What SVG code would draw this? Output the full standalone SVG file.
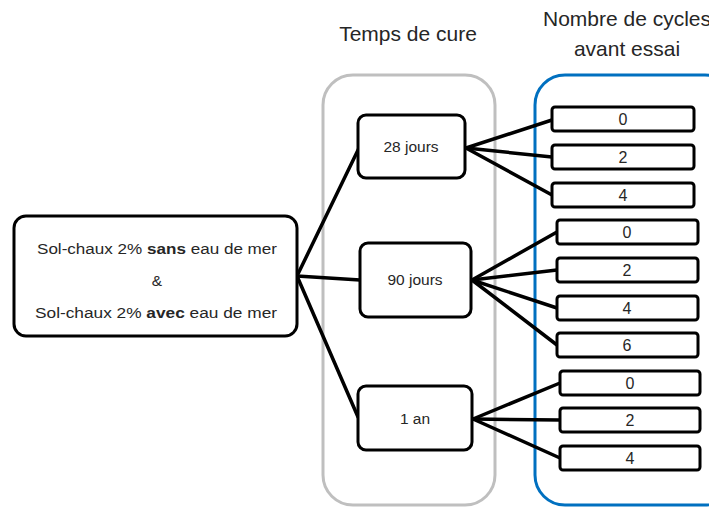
<svg xmlns="http://www.w3.org/2000/svg" width="709" height="508" viewBox="0 0 709 508">
<style>
text{font-family:"Liberation Sans","Open Sans",Arial,sans-serif;fill:#262626;text-anchor:middle}
.node{fill:#fff;stroke:#000;stroke-width:3}
.small{fill:#fff;stroke:#000;stroke-width:3}
.conn line{stroke:#000;stroke-width:3.5;stroke-linecap:round}
.t{font-size:15.5px}
.d{font-size:16px}
.h{font-size:21px}
</style>
<rect width="709" height="508" fill="#fff"/>
<g id="titles">
<text class="h" x="408" y="41">Temps de cure</text>
<text class="h" x="627" y="26">Nombre de cycles</text>
<text class="h" x="627" y="56">avant essai</text>
</g>
<g id="container-cure">
<rect x="323" y="75" width="172" height="430" rx="30" fill="none" stroke="#bfbfbf" stroke-width="3"/>
</g>
<g id="container-cycles">
<rect x="535" y="75" width="200" height="430" rx="30" fill="none" stroke="#0070c0" stroke-width="3"/>
</g>
<g id="connectors" class="conn">
<line x1="297" y1="276" x2="359" y2="148"/>
<line x1="297" y1="276" x2="360" y2="280"/>
<line x1="297" y1="276" x2="358" y2="417"/>
<line x1="466" y1="148" x2="552" y2="120"/>
<line x1="466" y1="148" x2="552" y2="157"/>
<line x1="466" y1="148" x2="552" y2="195"/>
<line x1="472" y1="280" x2="557" y2="232"/>
<line x1="472" y1="280" x2="557" y2="270"/>
<line x1="472" y1="280" x2="557" y2="308"/>
<line x1="472" y1="280" x2="557" y2="345"/>
<line x1="473" y1="419" x2="560" y2="383"/>
<line x1="473" y1="419" x2="560" y2="420"/>
<line x1="473" y1="419" x2="560" y2="458"/>
</g>
<g id="sol-chaux">
<rect class="node" x="14" y="216" width="283" height="120" rx="12"/>
<text class="t" x="157" y="254" textLength="240" lengthAdjust="spacingAndGlyphs">Sol-chaux 2% <tspan font-weight="bold">sans</tspan> eau de mer</text>
<text class="t" x="157" y="286">&amp;</text>
<text class="t" x="156" y="318" textLength="242" lengthAdjust="spacingAndGlyphs">Sol-chaux 2% <tspan font-weight="bold">avec</tspan>  eau de mer</text>
</g>
<g id="j28">
<rect class="node" x="358" y="115" width="107" height="63" rx="8"/>
<text class="t" x="411" y="152">28 jours</text>
</g>
<g id="j90">
<rect class="node" x="360" y="243" width="111" height="74" rx="8"/>
<text class="t" x="415" y="285">90 jours</text>
</g>
<g id="an1">
<rect class="node" x="358" y="386" width="114" height="64" rx="8"/>
<text class="t" x="415" y="424">1 an</text>
</g>
<g id="c28-0"><rect class="small" x="552" y="107" width="142" height="24" rx="3"/><text class="d" x="623" y="125">0</text></g>
<g id="c28-2"><rect class="small" x="552" y="145" width="142" height="24" rx="3"/><text class="d" x="623" y="163">2</text></g>
<g id="c28-4"><rect class="small" x="552" y="183" width="142" height="24" rx="3"/><text class="d" x="623" y="201">4</text></g>
<g id="c90-0"><rect class="small" x="557" y="220" width="141" height="24" rx="3"/><text class="d" x="627" y="238">0</text></g>
<g id="c90-2"><rect class="small" x="557" y="258" width="141" height="24" rx="3"/><text class="d" x="627" y="276">2</text></g>
<g id="c90-4"><rect class="small" x="557" y="296" width="141" height="24" rx="3"/><text class="d" x="627" y="314">4</text></g>
<g id="c90-6"><rect class="small" x="557" y="333" width="141" height="24" rx="3"/><text class="d" x="627" y="351">6</text></g>
<g id="c1-0"><rect class="small" x="560" y="371" width="140" height="24" rx="3"/><text class="d" x="630" y="389">0</text></g>
<g id="c1-2"><rect class="small" x="560" y="408" width="140" height="24" rx="3"/><text class="d" x="630" y="426">2</text></g>
<g id="c1-4"><rect class="small" x="560" y="446" width="140" height="24" rx="3"/><text class="d" x="630" y="464">4</text></g>
</svg>
